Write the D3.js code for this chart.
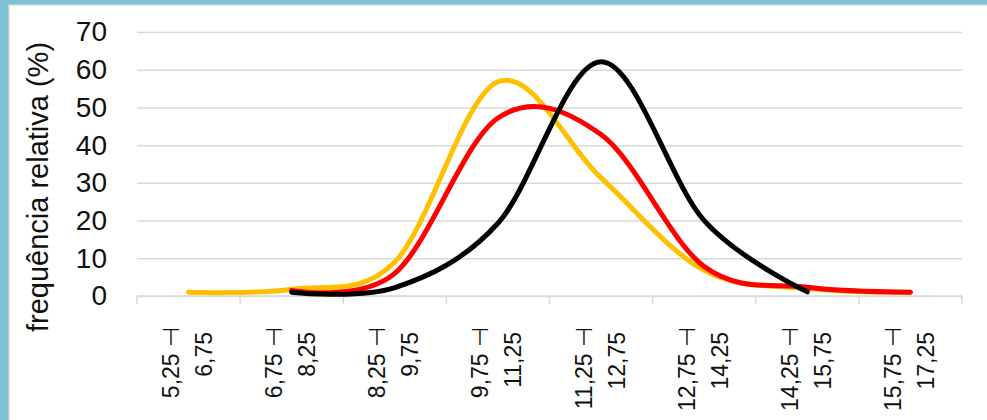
<!DOCTYPE html>
<html>
<head>
<meta charset="utf-8">
<script src="https://cdn.jsdelivr.net/npm/d3@7"></script>
<style>
  html, body { margin: 0; padding: 0; background: #7cc1d5; }
  svg { display: block; font-family: "Liberation Sans", Arial, sans-serif; }
</style>
</head>
<body>
<svg id="chart" width="987" height="420"></svg>
<script>
// ---- data ----
const categories = ["5,25 ⊣ 6,75", "6,75 ⊣ 8,25", "8,25 ⊣ 9,75", "9,75 ⊣ 11,25",
                    "11,25 ⊣ 12,75", "12,75 ⊣ 14,25", "14,25 ⊣ 15,75", "15,75 ⊣ 17,25"];
const seriesYellow = [1.0, 1.8, 9.0, 56.8, 31.3, 6.8, 2.0, 1.0];
const seriesRed    = [null, 1.5, 6.0, 47.2, 42.8, 7.8, 2.3, 1.0];
const seriesBlack  = [null, 1.0, 2.2, 19.3, 62.1, 20.0, 1.1, null];
const yTicks = [0, 10, 20, 30, 40, 50, 60, 70];
const yTitle = "frequência relativa (%)";

const series = [
  { name: "amarelo", color: "#ffc000", values: seriesYellow },
  { name: "vermelho", color: "#ff0000", values: seriesRed },
  { name: "preto", color: "#000000", values: seriesBlack }
];

// ---- layout ----
const svg = d3.select("#chart");
const plotLeft = 137, plotRight = 962, plotTop = 32, plotBottom = 296;

// chart background (white panel inside blue frame)
svg.append("rect").attr("x", 0).attr("y", 0).attr("width", 987).attr("height", 420).attr("fill", "#7cc1d5");
svg.append("rect").attr("x", 9).attr("y", 5).attr("width", 1000).attr("height", 500)
   .attr("fill", "#ffffff").attr("stroke", "#d9d9d9").attr("stroke-width", 1.5);

const x = d3.scaleBand().domain(categories).range([plotLeft, plotRight]).padding(0);
const y = d3.scaleLinear().domain([0, 70]).range([plotBottom, plotTop]);

// y axis with gridlines
const yAxis = d3.axisLeft(y).tickValues(yTicks).tickSize(-(plotRight - plotLeft)).tickPadding(30);
const gy = svg.append("g").attr("transform", `translate(${plotLeft},0)`).call(yAxis);
gy.select(".domain").remove();
gy.selectAll(".tick line").attr("stroke", "#d9d9d9").attr("stroke-width", 1.5);
gy.selectAll(".tick text").attr("font-size", 28).attr("fill", "#111").attr("font-family", "Liberation Sans, Arial, sans-serif");

// x axis line and boundary ticks
const gx = svg.append("g");
gx.append("line").attr("x1", plotLeft).attr("x2", plotRight).attr("y1", y(0)).attr("y2", y(0))
  .attr("stroke", "#d9d9d9").attr("stroke-width", 1.5);
const bounds = categories.map(c => x(c)).concat([x(categories[categories.length - 1]) + x.bandwidth()]);
gx.selectAll("line.tk").data(bounds).enter().append("line").attr("class", "tk")
  .attr("x1", d => d).attr("x2", d => d).attr("y1", y(0)).attr("y2", y(0) + 8)
  .attr("stroke", "#d9d9d9").attr("stroke-width", 1.5);

// x tick labels (two lines, rotated)
const lab = svg.append("g").attr("font-size", 23).attr("fill", "#111");
categories.forEach(c => {
  const cx = x(c) + x.bandwidth() / 2;
  const idx = c.lastIndexOf(" ");
  const l1 = c.slice(0, idx), l2 = c.slice(idx + 1);
  lab.append("text").attr("text-anchor", "end")
     .attr("transform", `translate(${cx - 9.5},327) rotate(-90)`).text(l1);
  lab.append("text").attr("text-anchor", "end")
     .attr("transform", `translate(${cx + 23.5},332) rotate(-90)`).text(l2);
});

// y axis title
svg.append("text").attr("text-anchor", "middle").attr("font-size", 29).attr("fill", "#111")
   .attr("transform", "translate(48,187) rotate(-90)").text(yTitle);

// lines
const line = d3.line()
  .defined(d => d.v !== null)
  .x(d => x(d.c) + x.bandwidth() / 2)
  .y(d => y(d.v))
  .curve(d3.curveCardinal.tension(0));

series.forEach(s => {
  const pts = categories.map((c, i) => ({ c: c, v: s.values[i] }));
  svg.append("path").datum(pts).attr("d", line)
     .attr("fill", "none").attr("stroke", s.color).attr("stroke-width", 5)
     .attr("stroke-linecap", "round").attr("stroke-linejoin", "round");
});
</script>
</body>
</html>
